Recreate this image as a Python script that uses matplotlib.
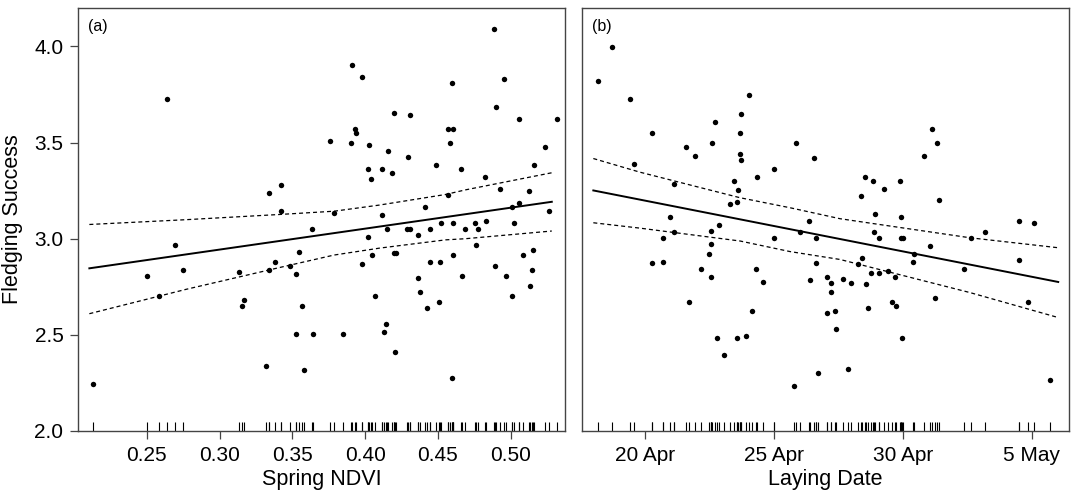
import numpy as np
import matplotlib.pyplot as plt

plt.rcParams['font.family'] = ['Liberation Sans', 'DejaVu Sans']

# (a) spring NDVI vs fledging success
ndvi = [0.2128, 0.2500, 0.2582, 0.2637, 0.2692, 0.2751, 0.3130, 0.3151, 0.3164, 0.3320,
        0.3338, 0.3338, 0.3379, 0.3423, 0.3425, 0.3486, 0.3527, 0.3527, 0.3548, 0.3569,
        0.3582, 0.3635, 0.3642, 0.3757, 0.3786, 0.3845, 0.3901, 0.3906, 0.3933, 0.3938,
        0.3975, 0.3975, 0.4017, 0.4022, 0.4027, 0.4039, 0.4049, 0.4067, 0.4116, 0.4116,
        0.4129, 0.4144, 0.4151, 0.4155, 0.4182, 0.4198, 0.4201, 0.4206, 0.4215, 0.4290,
        0.4297, 0.4306, 0.4306, 0.4360, 0.4363, 0.4374, 0.4411, 0.4422, 0.4443, 0.4448,
        0.4489, 0.4509, 0.4511, 0.4518, 0.4566, 0.4571, 0.4580, 0.4596, 0.4596, 0.4600,
        0.4602, 0.4603, 0.4658, 0.4662, 0.4683, 0.4754, 0.4762, 0.4772, 0.4822, 0.4829,
        0.4884, 0.4893, 0.4902, 0.4924, 0.4957, 0.4964, 0.5007, 0.5012, 0.5023, 0.5055,
        0.5055, 0.5082, 0.5127, 0.5134, 0.5148, 0.5153, 0.5162, 0.5235, 0.5265, 0.5315]
fledge_a = [2.243, 2.808, 2.704, 3.727, 2.965, 2.839, 2.829, 2.652, 2.683, 2.337,
            2.839, 3.237, 2.881, 3.278, 3.143, 2.860, 2.818, 2.505, 2.932, 2.652,
            2.318, 3.048, 2.505, 3.507, 3.133, 2.505, 3.497, 3.905, 3.573, 3.550,
            3.843, 2.870, 3.007, 3.361, 3.486, 3.310, 2.913, 2.704, 3.361, 3.121,
            2.515, 2.557, 3.048, 3.455, 3.341, 3.654, 2.924, 2.411, 2.924, 3.048,
            3.424, 3.048, 3.644, 3.017, 2.797, 2.725, 3.163, 2.640, 2.881, 3.048,
            3.382, 2.673, 2.881, 3.081, 3.573, 3.226, 3.497, 3.812, 2.276, 2.913,
            3.573, 3.081, 3.361, 2.808, 3.048, 3.081, 2.965, 3.048, 3.320, 3.091,
            4.092, 2.860, 3.687, 3.258, 3.832, 2.808, 2.704, 3.163, 3.081, 3.623,
            3.185, 2.913, 3.247, 2.756, 2.839, 2.943, 3.382, 3.476, 3.143, 3.623]

# fitted line and confidence band
a_fit_x = [0.2105, 0.5282]
a_fit_y = [2.846, 3.192]
a_ci_x = [0.2105, 0.2771, 0.3411, 0.3786, 0.4098, 0.4552, 0.4689, 0.5282]
a_ci_up = [3.074, 3.099, 3.126, 3.143, 3.175, 3.230, 3.254, 3.343]
a_ci_lo = [2.610, 2.737, 2.850, 2.915, 2.951, 2.994, 3.000, 3.040]
a_ticks = [0.25, 0.30, 0.35, 0.40, 0.45, 0.50]

# (b) laying date (day of April) vs fledging success
lay_day = [18.18, 18.70, 19.41, 19.55, 20.25, 20.27, 20.68, 20.70, 20.97, 21.10,
           21.13, 21.57, 21.68, 21.94, 22.17, 22.46, 22.54, 22.54, 22.54, 22.58,
           22.71, 22.77, 22.86, 23.06, 23.30, 23.43, 23.55, 23.56, 23.61, 23.66,
           23.66, 23.70, 23.72, 23.92, 24.04, 24.13, 24.31, 24.35, 24.57, 24.98,
           25.01, 25.76, 25.85, 26.02, 26.34, 26.39, 26.54, 26.61, 26.62, 26.69,
           27.04, 27.05, 27.20, 27.22, 27.35, 27.42, 27.67, 27.88, 27.97, 28.25,
           28.36, 28.40, 28.53, 28.57, 28.66, 28.75, 28.84, 28.88, 28.93, 29.08,
           29.08, 29.28, 29.41, 29.59, 29.70, 29.74, 29.90, 29.91, 29.93, 29.96,
           29.99, 30.39, 30.43, 30.83, 31.04, 31.13, 31.26, 31.31, 31.40, 32.37,
           32.64, 33.20, 34.51, 34.52, 34.87, 35.10, 35.71]
fledge_b = [3.818, 3.999, 3.729, 3.391, 3.550, 2.872, 2.881, 3.002, 3.111, 3.282,
            3.033, 3.479, 2.673, 3.431, 2.842, 2.922, 3.042, 2.970, 2.803, 3.500,
            3.609, 2.484, 3.071, 2.394, 3.182, 3.299, 2.484, 3.192, 3.251, 3.550,
            3.441, 3.410, 3.649, 2.493, 3.749, 2.622, 2.842, 3.322, 2.773, 3.002,
            3.360, 2.233, 3.500, 3.033, 3.091, 2.783, 3.421, 2.872, 3.002, 2.304,
            2.612, 2.803, 2.723, 2.772, 2.622, 2.533, 2.792, 2.323, 2.772, 2.870,
            3.221, 2.901, 3.322, 2.763, 2.642, 2.821, 3.301, 3.033, 3.131, 3.002,
            2.821, 3.261, 2.832, 2.673, 2.803, 2.652, 3.301, 3.002, 3.111, 2.484,
            3.002, 2.881, 2.922, 3.431, 2.962, 3.571, 2.692, 3.500, 3.200, 2.842,
            3.002, 3.033, 3.091, 2.891, 2.673, 3.083, 2.264]

b_fit_x = [17.98, 36.03]
b_fit_y = [3.251, 2.775]
b_ci_x = [17.98, 19.79, 23.68, 25.62, 27.56, 32.60, 36.03]
b_ci_up = [3.417, 3.346, 3.213, 3.161, 3.104, 3.005, 2.953]
b_ci_lo = [3.083, 3.055, 2.988, 2.933, 2.892, 2.720, 2.590]
b_ticks = [20, 25, 30, 35]
b_labels = ['20 Apr', '25 Apr', '30 Apr', '5 May']

y_ticks = [2.0, 2.5, 3.0, 3.5, 4.0]

fig = plt.figure(figsize=(10.73, 4.92), dpi=100)
ax1 = fig.add_axes([0.0727, 0.124, 0.4539, 0.8598])
ax2 = fig.add_axes([0.5424, 0.124, 0.4539, 0.8598])


def draw_panel(ax, x, y, fx, fy, cx, cup, clo, label):
    ax.plot(x, y, 'o', color='black', markersize=3.9, markeredgewidth=0)
    ax.plot(fx, fy, color='black', lw=1.4)
    ax.plot(cx, cup, color='black', lw=0.9, dashes=(3.2, 2.4))
    ax.plot(cx, clo, color='black', lw=0.9, dashes=(3.2, 2.4))
    # rug along the bottom
    ax.vlines(x, 0, 0.021, transform=ax.get_xaxis_transform(), color='black', lw=0.8)
    ax.set_ylim(2.0, 4.2)
    ax.text(0.02, 0.975, label, transform=ax.transAxes, ha='left', va='top', fontsize=11.5)
    for s in ax.spines.values():
        s.set_color('#444444')
        s.set_linewidth(1.0)
    ax.tick_params(direction='out', length=5.5, width=0.9, color='#444444', labelsize=15, pad=5)


draw_panel(ax1, ndvi, fledge_a, a_fit_x, a_fit_y, a_ci_x, a_ci_up, a_ci_lo, '(a)')
ax1.set_xlim(0.2027, 0.5373)
ax1.set_xticks(a_ticks)
ax1.set_xticklabels(['%.2f' % t for t in a_ticks])
ax1.set_yticks(y_ticks)
ax1.set_yticklabels(['%.1f' % t for t in y_ticks])
ax1.set_xlabel('Spring NDVI', fontsize=15.5)
ax1.set_ylabel('Fledging Success', fontsize=15.5)
ax1.xaxis.set_label_coords(0.5, -0.09)
ax1.yaxis.set_label_coords(-0.112, 0.5)

draw_panel(ax2, lay_day, fledge_b, b_fit_x, b_fit_y, b_ci_x, b_ci_up, b_ci_lo, '(b)')
ax2.set_xlim(17.54, 36.45)
ax2.set_xticks(b_ticks)
ax2.set_xticklabels(b_labels)
ax2.set_yticks([])
ax2.set_xlabel('Laying Date', fontsize=15.5)
ax2.xaxis.set_label_coords(0.5, -0.09)

fig.savefig('out.png', dpi=100)
